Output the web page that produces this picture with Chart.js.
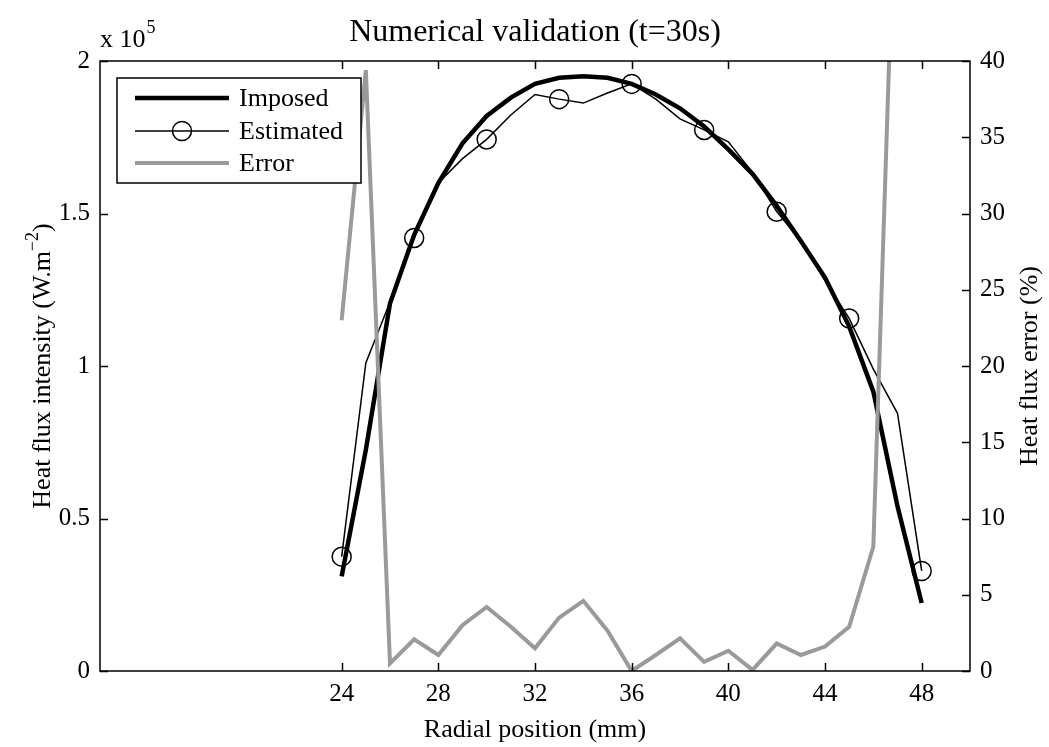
<!DOCTYPE html>
<html>
<head>
<meta charset="utf-8">
<script src="https://cdn.jsdelivr.net/npm/chart.js@4.4.0/dist/chart.umd.min.js"></script>
<style>
  html, body { margin: 0; padding: 0; background: #ffffff; }
  #wrap { width: 1049px; height: 747px; position: relative; }
</style>
</head>
<body>
<div id="wrap"><canvas id="c" width="1049" height="747"></canvas></div>
<script>
// ---------------- data ----------------
const radialPosition = [24, 25, 26, 27, 28, 29, 30, 31, 32, 33, 34, 35, 36,
                        37, 38, 39, 40, 41, 42, 43, 44, 45, 46, 47, 48];
const imposedFlux = [31000, 72500, 120500, 143000, 160000, 173000, 182000, 188000, 192500,
                     194500, 195000, 194500, 192500, 189000, 184500, 178500, 171000, 163000,
                     152500, 141000, 129000, 113000, 91600, 54000, 22300];
const estimatedFlux = [37500, 101000, 121000, 142000, 160000, 168000, 174300, 182300, 189000,
                       187500, 186200, 189500, 192500, 187500, 181000, 177400, 173500, 163500,
                       150600, 141000, 128000, 115600, 99000, 84500, 32800];
const errorPercent = [23.0, 39.4, 0.5, 2.08, 1.05, 3.0, 4.2, 2.9, 1.49, 3.5, 4.6, 2.64, 0.0,
                      1.05, 2.14, 0.6, 1.33, 0.07, 1.8, 1.05, 1.6, 2.9, 8.15, 57, 48];
const estimatedMarkerPositions = [24, 27, 30, 33, 36, 39, 42, 45, 48];
const xTickValues = [24, 28, 32, 36, 40, 44, 48];
const xRange = [14, 50];
const leftTickValues = [0, 50000, 100000, 150000, 200000];
const rightTickValues = [0, 5, 10, 15, 20, 25, 30, 35, 40];
const seriesNames = ['Imposed', 'Estimated', 'Error'];
const chartTitle = 'Numerical validation (t=30s)';
const xTitle = 'Radial position (mm)';
const leftTitleMain = 'Heat flux intensity (W.m';
const leftTitleSup = '\u22122';
const leftTitleEnd = ')';
const rightTitle = 'Heat flux error (%)';

// ---------------- styling ----------------
const SERIF = '"Liberation Serif", "Times New Roman", Times, serif';
const GREY = '#9a9a9a';

const toXY = (ys) => radialPosition.map((x, i) => ({ x: x, y: ys[i] }));

const decoPlugin = {
  id: 'deco',
  afterDatasetsDraw(chart) {
    const { ctx, chartArea: a, scales } = chart;
    ctx.save();
    // axes box
    ctx.strokeStyle = '#000';
    ctx.lineWidth = 1.5;
    ctx.strokeRect(a.left, a.top, a.right - a.left, a.bottom - a.top);
    // inward tick marks
    const TL = 8;
    ctx.beginPath();
    scales.x.ticks.forEach(t => {
      const px = Math.round(scales.x.getPixelForValue(t.value)) + 0.5;
      ctx.moveTo(px, a.bottom); ctx.lineTo(px, a.bottom - TL);
      ctx.moveTo(px, a.top); ctx.lineTo(px, a.top + TL);
    });
    scales.y.ticks.forEach(t => {
      const py = Math.round(scales.y.getPixelForValue(t.value)) + 0.5;
      ctx.moveTo(a.left, py); ctx.lineTo(a.left + TL, py);
    });
    scales.y1.ticks.forEach(t => {
      const py = Math.round(scales.y1.getPixelForValue(t.value)) + 0.5;
      ctx.moveTo(a.right, py); ctx.lineTo(a.right - TL, py);
    });
    ctx.lineWidth = 1.5;
    ctx.stroke();

    // legend (inside the axes, opaque)
    const lx = 117, ly = 78, lw = 244, lh = 105;
    ctx.fillStyle = '#fff';
    ctx.fillRect(lx, ly, lw, lh);
    ctx.strokeStyle = '#000';
    ctx.lineWidth = 1.5;
    ctx.strokeRect(lx, ly, lw, lh);
    const rows = [98, 131, 163];
    const ds = chart.data.datasets;
    ctx.font = '26px ' + SERIF;
    ctx.textBaseline = 'middle';
    ctx.textAlign = 'left';
    for (let i = 0; i < 3; i++) {
      const d = ds[i];
      ctx.beginPath();
      ctx.strokeStyle = d.borderColor;
      ctx.lineWidth = d.borderWidth;
      ctx.moveTo(135, rows[i]);
      ctx.lineTo(229, rows[i]);
      ctx.stroke();
      if (i === 1) {
        ctx.beginPath();
        ctx.lineWidth = 1.5;
        ctx.arc(182, rows[i], 9.5, 0, Math.PI * 2);
        ctx.stroke();
      }
      ctx.fillStyle = '#000';
      ctx.fillText(d.label, 239, rows[i] + 1);
    }
    ctx.restore();
  },
  afterDraw(chart) {
    const { ctx, chartArea: a } = chart;
    ctx.save();
    ctx.fillStyle = '#000';
    // title
    ctx.font = '32px ' + SERIF;
    ctx.textAlign = 'center';
    ctx.textBaseline = 'alphabetic';
    ctx.fillText(chartTitle, (a.left + a.right) / 2, 41);
    // x title
    ctx.font = '26px ' + SERIF;
    ctx.fillText(xTitle, (a.left + a.right) / 2, 737);
    // exponent label
    ctx.textAlign = 'left';
    ctx.font = '26px ' + SERIF;
    ctx.fillText('x 10', a.left, 47);
    const w10 = ctx.measureText('x 10').width;
    ctx.font = '18px ' + SERIF;
    ctx.fillText('5', a.left + w10 + 1, 33);
    // left y title (rotated, with superscript)
    const cy = (a.top + a.bottom) / 2;
    ctx.save();
    ctx.translate(41, cy);
    ctx.rotate(-Math.PI / 2);
    ctx.font = '26px ' + SERIF;
    const wMain = ctx.measureText(leftTitleMain).width;
    const wEnd = ctx.measureText(leftTitleEnd).width;
    ctx.font = '18px ' + SERIF;
    const wSup = ctx.measureText(leftTitleSup).width;
    const total = wMain + wSup + wEnd;
    let sx = -total / 2;
    ctx.textBaseline = 'alphabetic';
    ctx.font = '26px ' + SERIF;
    ctx.fillText(leftTitleMain, sx, 9);
    sx += wMain;
    ctx.font = '18px ' + SERIF;
    ctx.fillText(leftTitleSup, sx, -3);
    sx += wSup;
    ctx.font = '26px ' + SERIF;
    ctx.fillText(leftTitleEnd, sx, 9);
    ctx.restore();
    // right y title
    ctx.save();
    ctx.translate(1030, cy);
    ctx.rotate(-Math.PI / 2);
    ctx.font = '26px ' + SERIF;
    ctx.textAlign = 'center';
    ctx.textBaseline = 'middle';
    ctx.fillText(rightTitle, 0, 0);
    ctx.restore();
    ctx.restore();
  }
};

const chart = new Chart(document.getElementById('c'), {
  type: 'line',
  data: {
    datasets: [
      {
        label: seriesNames[0],
        data: toXY(imposedFlux),
        yAxisID: 'y',
        borderColor: '#000',
        borderWidth: 4.5,
        pointRadius: 0,
        fill: false,
        tension: 0,
        order: 2,
        clip: 0
      },
      {
        label: seriesNames[1],
        data: toXY(estimatedFlux),
        yAxisID: 'y',
        borderColor: '#000',
        borderWidth: 1.5,
        pointStyle: 'circle',
        pointRadius: (c) => estimatedMarkerPositions.includes(radialPosition[c.dataIndex]) ? 9.5 : 0,
        pointBorderWidth: 1.5,
        pointBorderColor: '#000',
        pointBackgroundColor: 'rgba(0,0,0,0)',
        pointHoverRadius: 0,
        fill: false,
        tension: 0,
        order: 1,
        clip: 0
      },
      {
        label: seriesNames[2],
        data: toXY(errorPercent),
        yAxisID: 'y1',
        borderColor: GREY,
        borderWidth: 4,
        pointRadius: 0,
        fill: false,
        tension: 0,
        order: 0,
        clip: 0
      }
    ]
  },
  options: {
    responsive: false,
    animation: false,
    events: [],
    layout: { padding: { top: 61, left: 0, right: 0, bottom: 0 } },
    plugins: {
      legend: { display: false },
      title: { display: false },
      tooltip: { enabled: false }
    },
    scales: {
      x: {
        type: 'linear',
        position: 'bottom',
        min: xRange[0],
        max: xRange[1],
        grid: { display: false, drawTicks: false },
        border: { display: false },
        afterBuildTicks: (s) => { s.ticks = xTickValues.map(v => ({ value: v })); },
        afterFit: (s) => { s.height = 76; s.paddingLeft = 0; s.paddingRight = 0; },
        ticks: {
          autoSkip: false,
          maxRotation: 0,
          padding: 8,
          color: '#000',
          font: { family: SERIF, size: 25 },
          callback: (v) => String(v)
        }
      },
      y: {
        type: 'linear',
        position: 'left',
        min: 0,
        max: 200000,
        grid: { display: false, drawTicks: false },
        border: { display: false },
        afterBuildTicks: (s) => { s.ticks = leftTickValues.map(v => ({ value: v })); },
        afterFit: (s) => { s.width = 100; },
        ticks: {
          padding: 10,
          color: '#000',
          font: { family: SERIF, size: 25 },
          callback: (v) => String(v / 100000)
        }
      },
      y1: {
        type: 'linear',
        position: 'right',
        min: 0,
        max: 40,
        grid: { display: false, drawTicks: false },
        border: { display: false },
        afterBuildTicks: (s) => { s.ticks = rightTickValues.map(v => ({ value: v })); },
        afterFit: (s) => { s.width = 79; },
        ticks: {
          padding: 10,
          color: '#000',
          font: { family: SERIF, size: 25 },
          callback: (v) => String(v)
        }
      }
    }
  },
  plugins: [decoPlugin]
});
</script>
</body>
</html>
